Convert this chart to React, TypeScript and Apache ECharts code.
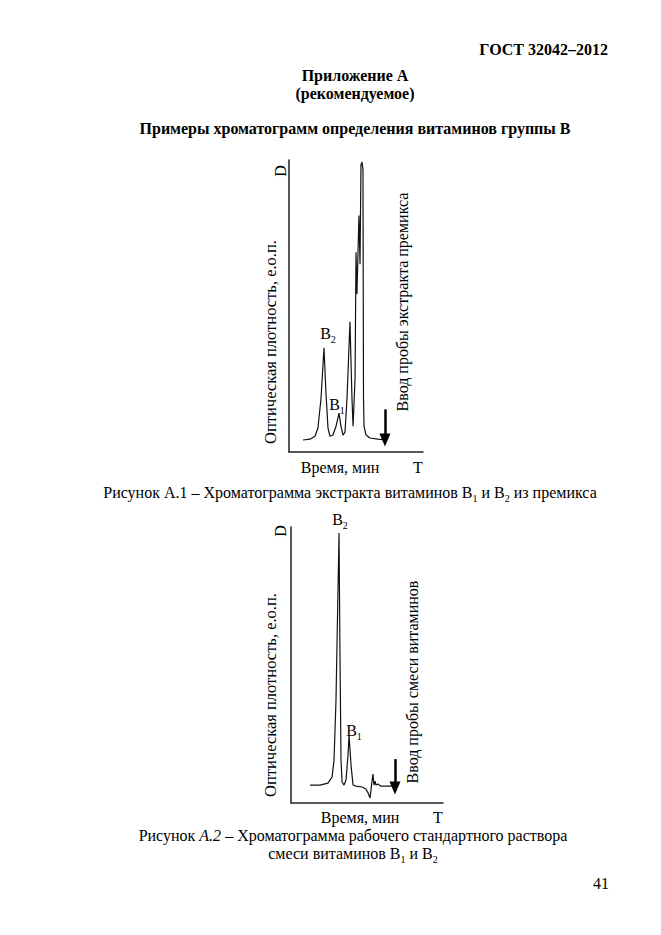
import React, { useEffect, useRef } from "react";
import * as echarts from "echarts";

// ---------- Data (arbitrary units: time 0..100 along the axis, density 0..100) ----------
// Figure A.1 – extract of vitamins B1 and B2 from premix
const fig1Time = [10.4, 15.7, 19.4, 21.6, 23.9, 26.1, 27.6, 29.1, 30.6, 32.8, 35.1, 37.3, 38.8, 40.3, 41.8, 43.3, 45.5, 47.0, 47.8, 49.3, 50.0, 50.7, 52.2, 53.0, 53.7, 54.5, 55.2, 55.6, 56.0, 57.5, 60.4, 66.4, 71.6];
const fig1Density = [4.1, 4.4, 5.4, 8.2, 18.4, 35.7, 20.1, 8.2, 5.4, 5.8, 8.8, 13.3, 8.8, 5.8, 6.8, 18.4, 44.6, 18.4, 8.8, 25.2, 68.4, 54.1, 81.0, 64.3, 98.3, 99.3, 96.6, 18.4, 8.8, 5.8, 4.8, 4.4, 4.1];
const fig1Injection = { time: 71.6, from: 14.6, to: 4.1 };

// Figure A.2 – working standard solution of B1 and B2
const fig2Time = [12.5, 19.1, 24.3, 27.0, 28.3, 29.6, 31.6, 32.2, 32.9, 33.6, 34.9, 36.2, 37.5, 38.2, 39.5, 40.8, 42.8, 46.7, 49.3, 50.7, 52.0, 53.0, 53.9, 54.6, 55.3, 55.9, 57.2, 59.2, 63.8, 68.4];
const fig2Density = [6.5, 6.5, 7.2, 9.4, 15.5, 37.2, 97.8, 55.2, 15.5, 7.6, 6.5, 8.3, 17.3, 24.5, 13.7, 6.5, 6.1, 5.8, 5.1, 3.6, 1.8, 6.5, 10.5, 6.5, 7.9, 6.5, 6.9, 6.1, 6.1, 6.1];
const fig2Injection = { time: 68.4, from: 15.9, to: 5.4 };

const SERIF = '"Liberation Serif", "Times New Roman", serif';

const rich = {
  n: { fontFamily: SERIF, fontSize: 16, lineHeight: 22, fill: "#000" },
  i: { fontFamily: SERIF, fontSize: 16, lineHeight: 22, fontStyle: "italic", fill: "#000" },
  s: { fontFamily: SERIF, fontSize: 10, lineHeight: 10, verticalAlign: "bottom", fill: "#000" },
};

function txt(x: number, y: number, text: string, o: any = {}) {
  return {
    type: "text",
    x,
    y,
    z: 100,
    rotation: o.rot ? Math.PI / 2 : 0,
    silent: true,
    style: {
      text,
      rich,
      fontFamily: SERIF,
      fontSize: o.size || 16,
      fontWeight: o.bold ? "bold" : "normal",
      fill: "#000",
      align: o.align || "center",
      verticalAlign: "middle",
    },
  };
}

function axisPair(grid: number) {
  return {
    gridIndex: grid,
    type: "value",
    min: 0,
    max: 100,
    axisLine: { show: true, onZero: false, lineStyle: { color: "#222", width: 1.5 } },
    axisTick: { show: false },
    axisLabel: { show: false },
    splitLine: { show: false },
  };
}

function lineSeries(grid: number, t: number[], d: number[], inj: any) {
  return {
    type: "line",
    xAxisIndex: grid,
    yAxisIndex: grid,
    z: 2,
    data: t.map((v, i) => [v, d[i]]),
    symbol: "none",
    smooth: false,
    lineStyle: { color: "#111", width: 1.2 },
    silent: true,
    markLine: {
      silent: true,
      label: { show: false },
      lineStyle: { color: "#000", width: 2.5, type: "solid" },
      data: [
        [
          { coord: [inj.time, inj.from], symbol: "none" },
          { coord: [inj.time, inj.to], symbol: "triangle", symbolSize: [11, 13] },
        ],
      ],
    },
  };
}

export default function App() {
  const ref = useRef<HTMLDivElement>(null);
  useEffect(() => {
    const chart = echarts.init(ref.current!, null, { renderer: "svg" });
    chart.setOption({
      animation: false,
      backgroundColor: "#fff",
      grid: [
        { left: 289, top: 160, width: 134, height: 292 },
        { left: 291, top: 527, width: 152, height: 276 },
      ],
      xAxis: [axisPair(0), axisPair(1)],
      yAxis: [axisPair(0), axisPair(1)],
      series: [
        lineSeries(0, fig1Time, fig1Density, fig1Injection),
        lineSeries(1, fig2Time, fig2Density, fig2Injection),
      ],
      graphic: [
        txt(608, 49, "ГОСТ 32042–2012", { bold: true, align: "right" }),
        txt(355, 75, "Приложение А", { bold: true }),
        txt(355, 93, "(рекомендуемое)", { bold: true }),
        txt(355, 128, "Примеры хроматограмм определения витаминов группы В", { bold: true }),
        // Figure 1
        txt(280, 171, "D", { rot: true }),
        txt(270, 342, "Оптическая плотность, е.о.п.", { rot: true, size: 16.5 }),
        txt(402, 302, "Ввод пробы экстракта премикса", { rot: true, size: 16 }),
        txt(328, 333, "{n|B}{s|2}"),
        txt(337, 404, "{n|B}{s|1}"),
        txt(340, 467, "Время, мин"),
        txt(418, 467, "T"),
        txt(350, 492, "{n|Рисунок А.1 – Хроматограмма экстракта витаминов B}{s|1}{n| и B}{s|2}{n| из премикса}"),
        // Figure 2
        txt(280, 531, "D", { rot: true }),
        txt(270, 695, "Оптическая плотность, е.о.п.", { rot: true, size: 16.5 }),
        txt(412, 682, "Ввод пробы смеси витаминов", { rot: true, size: 16 }),
        txt(340, 519, "{n|B}{s|2}"),
        txt(354, 730, "{n|B}{s|1}"),
        txt(360, 817, "Время, мин"),
        txt(438, 817, "T"),
        txt(353, 835, "{n|Рисунок }{i|A.2}{n| – Хроматограмма рабочего стандартного раствора}"),
        txt(353, 853, "{n|смеси витаминов B}{s|1}{n| и B}{s|2}"),
        txt(601, 883, "41"),
      ],
    });
    return () => chart.dispose();
  }, []);
  return (
    <div
      ref={ref}
      style={{ position: "absolute", left: 0, top: 0, width: 661, height: 935, background: "#fff" }}
    />
  );
}
